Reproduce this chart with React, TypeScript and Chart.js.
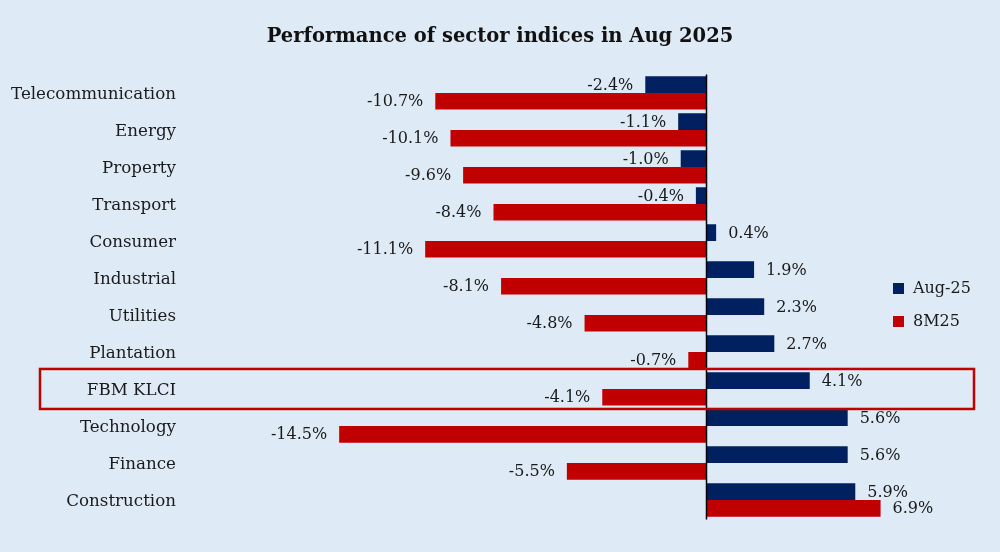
import React, { useEffect, useRef } from "react";
import { Chart, registerables } from "chart.js";

Chart.register(...registerables);

const categories = [
  "Telecommunication",
  "Energy",
  "Property",
  "Transport",
  "Consumer",
  "Industrial",
  "Utilities",
  "Plantation",
  "FBM KLCI",
  "Technology",
  "Finance",
  "Construction",
];
const aug25 = [-2.4, -1.1, -1.0, -0.4, 0.4, 1.9, 2.3, 2.7, 4.1, 5.6, 5.6, 5.9];
const m825 = [-10.7, -10.1, -9.6, -8.4, -11.1, -8.1, -4.8, -0.7, -4.1, -14.5, -5.5, 6.9];
const seriesNames = ["Aug-25", "8M25"];
const highlighted = "FBM KLCI";

const NAVY = "#002060";
const RED = "#C00000";
const BG = "#DEEAF6";
const FONT = "'DejaVu Serif', serif";

export default function App() {
  const ref = useRef<HTMLCanvasElement | null>(null);

  useEffect(() => {
    if (!ref.current) return;

    const bgPlugin = {
      id: "bg",
      beforeDraw(chart: any) {
        const c = chart.ctx;
        c.save();
        c.fillStyle = BG;
        c.fillRect(0, 0, chart.width, chart.height);
        c.restore();
      },
    };

    const extras = {
      id: "extras",
      afterDatasetsDraw(chart: any) {
        const c = chart.ctx;
        const x = chart.scales.x;
        const y = chart.scales.y;
        const area = chart.chartArea;
        // zero line
        const x0 = Math.round(x.getPixelForValue(0)) + 0.5;
        c.save();
        c.strokeStyle = "#000";
        c.lineWidth = 1.5;
        c.beginPath();
        c.moveTo(x0, area.top);
        c.lineTo(x0, area.bottom + 1);
        c.stroke();

        // data labels
        c.font = `16px ${FONT}`;
        c.fillStyle = "#1a1a1a";
        c.textBaseline = "middle";
        chart.data.datasets.forEach((ds: any, di: number) => {
          const meta = chart.getDatasetMeta(di);
          meta.data.forEach((el: any, i: number) => {
            const v = ds.data[i];
            const txt = v.toFixed(1) + "%";
            if (v >= 0) {
              c.textAlign = "left";
              c.fillText(txt, el.x + 12, el.y + 1);
            } else {
              c.textAlign = "right";
              c.fillText(txt, el.x - 12, el.y + 1);
            }
          });
        });

        // highlight box
        const idx = categories.indexOf(highlighted);
        if (idx >= 0) {
          const yc = y.getPixelForValue(idx);
          c.strokeStyle = RED;
          c.lineWidth = 2.5;
          c.strokeRect(40, yc - 20, 934, 40);
        }

        // legend
        const items = chart.data.datasets;
        c.textAlign = "left";
        c.font = `16px ${FONT}`;
        items.forEach((ds: any, i: number) => {
          const ly = 289 + i * 33;
          c.fillStyle = ds.backgroundColor;
          c.fillRect(893, ly - 6, 11, 11);
          c.fillStyle = "#1a1a1a";
          c.fillText(ds.label, 913, ly);
        });
        c.restore();
      },
    };

    const chart = new Chart(ref.current, {
      type: "bar",
      data: {
        labels: categories,
        datasets: [
          { label: seriesNames[0], data: aug25, backgroundColor: NAVY, borderWidth: 0 },
          { label: seriesNames[1], data: m825, backgroundColor: RED, borderWidth: 0 },
        ],
      },
      options: {
        indexAxis: "y",
        responsive: false,
        animation: false,
        devicePixelRatio: 1,
        layout: { padding: { left: 0, right: 0, top: 0, bottom: 33.5 } },
        datasets: { bar: { categoryPercentage: 0.9, barPercentage: 1.0 } },
        plugins: {
          legend: { display: false },
          tooltip: { enabled: false },
          title: {
            display: true,
            text: "Performance of sector indices in Aug 2025",
            color: "#111",
            font: { family: FONT, size: 19.5, weight: "bold", lineHeight: 1.2 },
            padding: { top: 25, bottom: 26 },
          },
        },
        scales: {
          x: {
            display: false,
            min: -20,
            max: 11.62,
          },
          y: {
            grid: { display: false },
            border: { display: false },
            ticks: {
              color: "#1a1a1a",
              font: { family: FONT, size: 16.7 },
              padding: 16,
              labelOffset: 2,
            },
            afterFit(scale: any) {
              scale.width = 200;
            },
          },
        },
      },
      plugins: [bgPlugin, extras],
    } as any);

    return () => chart.destroy();
  }, []);

  return (
    <div style={{ position: "fixed", left: 0, top: 0, width: 1000, height: 552, background: BG }}>
      <canvas ref={ref} width={1000} height={552} />
    </div>
  );
}
